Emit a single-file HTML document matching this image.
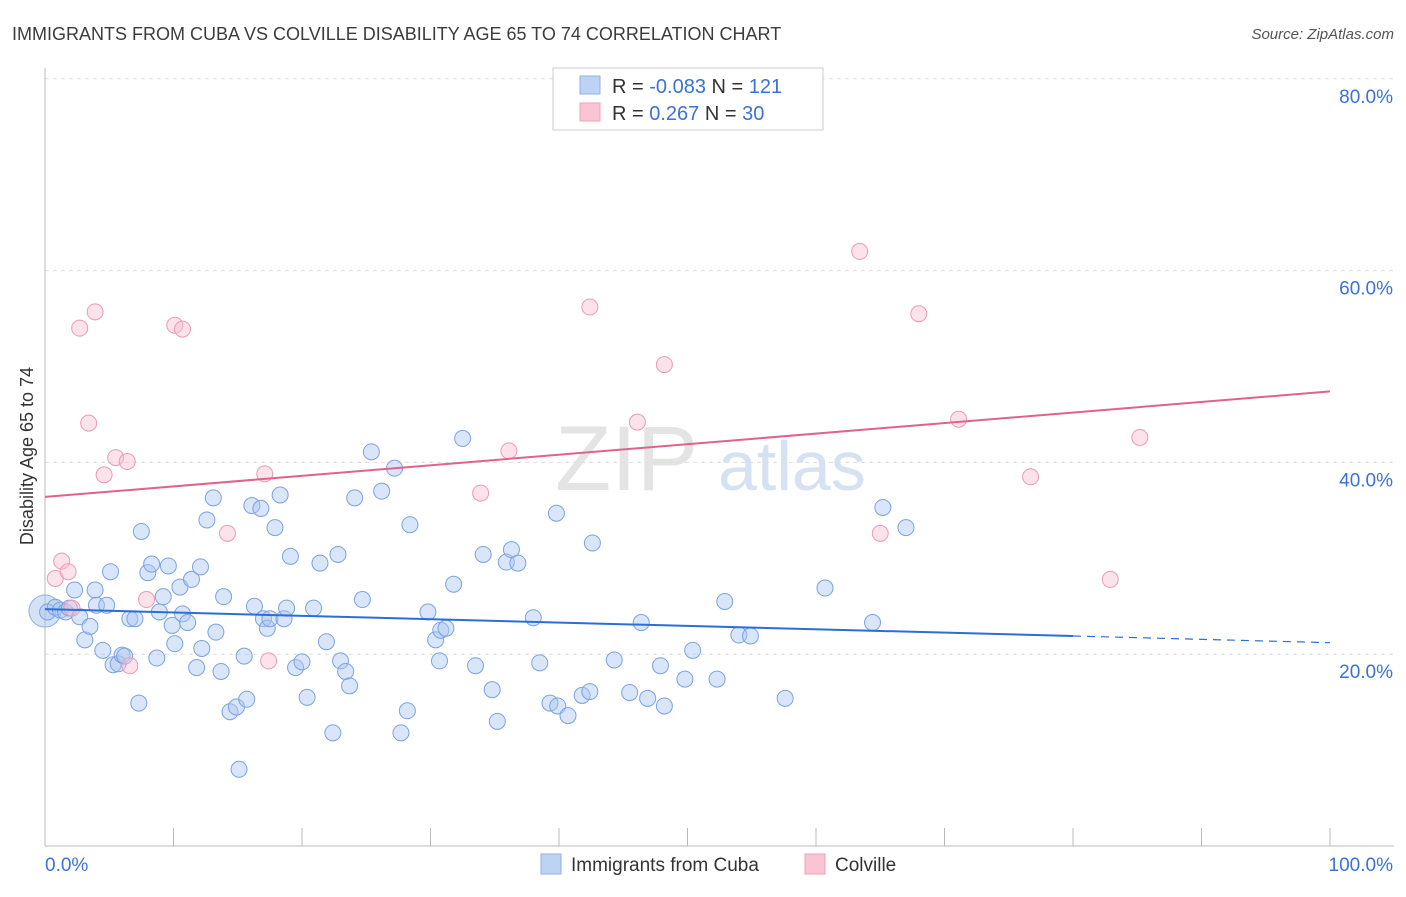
<!DOCTYPE html>
<html><head><meta charset="utf-8"><style>
body{margin:0;background:#fff;font-family:"Liberation Sans",sans-serif}
svg text{font-family:"Liberation Sans",sans-serif}
</style></head><body>
<svg id="chart" width="1406" height="892" viewBox="0 0 1406 892" xmlns="http://www.w3.org/2000/svg">
<text x="12" y="40" font-size="18" fill="#3c3c3c">IMMIGRANTS FROM CUBA VS COLVILLE DISABILITY AGE 65 TO 74 CORRELATION CHART</text>
<text x="1394" y="39" font-size="15" fill="#555" text-anchor="end" font-style="italic">Source: ZipAtlas.com</text>
<text x="555" y="490" font-size="92" fill="#e4e4e4" font-family="Liberation Serif">ZIP</text>
<text x="718" y="490" font-size="70" fill="#d6e2f3">atlas</text>
<g id="grid"></g>
<g id="axes"></g>
<g id="points"></g>
<g id="trends"></g>
<text transform="translate(33,456) rotate(-90)" font-size="18" fill="#333" text-anchor="middle">Disability Age 65 to 74</text>
<g>
<rect x="553" y="68" width="270" height="62" fill="#fff" stroke="#ccc"/>
<rect x="580" y="76" width="20" height="18" fill="#bcd3f3" stroke="#8fb2e6"/>
<rect x="580" y="103" width="20" height="18" fill="#f9c5d4" stroke="#eea3b9"/>
<text x="612" y="93" font-size="20" fill="#333">R = <tspan fill="#3a72d8">-0.083</tspan>   N = <tspan fill="#3a72d8">121</tspan></text>
<text x="612" y="120" font-size="20" fill="#333">R =   <tspan fill="#3a72d8">0.267</tspan>   N =  <tspan fill="#3a72d8">30</tspan></text>
</g>
<g>
<rect x="541" y="854" width="20" height="20" fill="#bcd3f3" stroke="#8fb2e6"/>
<text x="571" y="871" font-size="19" fill="#333">Immigrants from Cuba</text>
<rect x="805" y="854" width="20" height="20" fill="#f9c5d4" stroke="#eea3b9"/>
<text x="835" y="871" font-size="19" fill="#333">Colville</text>
</g>
</svg>
<script>
const yTicks=[20,40,60,80];
const yTickLabels=["20.0%","40.0%","60.0%","80.0%"];
const xLabels=["0.0%","100.0%"];
const cubaX=[0.2,0.8,1.2,1.6,1.9,2.3,2.7,3.1,3.5,3.9,4.0,4.5,4.8,5.1,5.3,5.7,6.0,6.2,6.6,7.0,7.3,7.5,8.0,8.3,8.7,8.9,9.2,9.6,9.9,10.1,10.5,10.7,11.1,11.4,11.8,12.1,12.2,12.6,13.1,13.3,13.7,13.9,14.4,14.9,15.1,15.5,15.7,16.1,16.3,16.8,17.0,17.3,17.5,17.9,18.3,18.6,18.8,19.1,19.5,20.0,20.4,20.9,21.4,21.9,22.4,22.8,23.0,23.4,23.7,24.1,24.7,25.4,26.2,27.2,27.7,28.2,28.4,29.8,30.4,30.7,30.8,31.2,31.8,32.5,33.5,34.1,34.8,35.2,35.9,36.3,36.8,38.0,38.5,39.3,39.8,39.9,40.7,41.8,42.4,42.6,44.3,45.5,46.4,46.9,47.9,48.2,49.8,50.4,52.3,52.9,54.0,54.9,57.6,60.7,64.4,65.2,67.0];
const cubaY=[24.4,24.9,24.6,24.4,24.8,26.7,23.9,21.5,22.9,26.7,25.1,20.4,25.1,28.6,18.9,19.0,19.9,19.8,23.7,23.7,14.9,32.8,28.5,29.4,19.6,24.4,26.0,29.2,23.0,21.1,27.0,24.2,23.3,27.8,18.6,29.1,20.6,34.0,36.3,22.3,18.2,26.0,14.0,14.5,8.0,19.8,15.3,35.5,25.0,35.2,23.7,22.7,23.7,33.2,36.6,23.7,24.8,30.2,18.6,19.2,15.5,24.8,29.5,21.3,11.8,30.4,19.3,18.2,16.7,36.3,25.7,41.1,37.0,39.4,11.8,14.1,33.5,24.4,21.5,19.3,22.5,22.7,27.3,42.5,18.8,30.4,16.3,13.0,29.6,30.9,29.5,23.8,19.1,14.9,34.7,14.6,13.6,15.7,16.1,31.6,19.4,16.0,23.3,15.4,18.8,14.6,17.4,20.4,17.4,25.5,22.0,21.9,15.4,26.9,23.3,35.3,33.2];
const colvX=[0.8,1.3,1.8,2.1,2.7,3.4,3.9,4.6,5.5,6.4,6.6,7.9,10.1,10.7,14.2,17.1,17.4,33.9,36.1,42.4,46.1,48.2,63.4,65.0,68.0,71.1,76.7,82.9,85.2];
const colvY=[27.9,29.7,28.6,24.8,54.0,44.1,55.7,38.7,40.5,40.1,18.8,25.7,54.3,53.9,32.6,38.8,19.3,36.8,41.2,56.2,44.2,50.2,62.0,32.6,55.5,44.5,38.5,27.8,42.6];
const cubaTrend=[24.7,21.2]; // value at x=0, x=100
const colvTrend=[36.4,47.4];
const NS="http://www.w3.org/2000/svg";
const X0=45,X1=1330,Y0=846,YPX=9.59;
function sx(v){return X0+(X1-X0)*v/100;}
function sy(v){return Y0-v*YPX;}
function mk(tag,attrs,parent){const e=document.createElementNS(NS,tag);for(const k in attrs)e.setAttribute(k,attrs[k]);document.getElementById(parent).appendChild(e);return e;}
yTicks.forEach((t,i)=>{
 const l=mk('line',{x1:45,x2:1394,y1:sy(t),y2:sy(t),stroke:'#ddd','stroke-dasharray':'4,4'},'grid');
 
 
 const tx=mk('text',{x:1393,y:sy(t)+24,'font-size':19,fill:'#3a72d8','text-anchor':'end'},'grid');
 tx.textContent=yTickLabels[i];
 
 
});
const ax=mk('line',{x1:45,x2:45,y1:68,y2:846,stroke:'#bbb'},'axes');


const bx=mk('line',{x1:45,x2:1394,y1:846,y2:846,stroke:'#bbb'},'axes');


for(let i=1;i<=10;i++){
 const t=mk('line',{x1:sx(i*10),x2:sx(i*10),y1:828,y2:846,stroke:'#bbb'},'axes');
 
 
}
[[0,'start',45],[100,'end',1393]].forEach((d,i)=>{
 const t=mk('text',{x:d[2],y:871,'font-size':19,fill:'#3a72d8','text-anchor':d[1]},'axes');
 t.textContent=xLabels[i];
 
 
});
const big=mk('circle',{cx:sx(0),cy:sy(24.5),r:16,fill:'rgba(160,190,235,0.45)',stroke:'#8fb2e6'},'points');


cubaX.forEach((x,i)=>{
 const c=mk('circle',{cx:sx(x),cy:sy(cubaY[i]),r:8,fill:'rgba(170,198,240,0.45)',stroke:'#7ba3e0','stroke-width':1},'points');
 
 
});
colvX.forEach((x,i)=>{
 const c=mk('circle',{cx:sx(x),cy:sy(colvY[i]),r:8,fill:'rgba(248,190,208,0.45)',stroke:'#eb9bb4','stroke-width':1},'points');
 
 
});
function tv(tr,x){return tr[0]+(tr[1]-tr[0])*x/100;}
const bl=mk('line',{x1:sx(0),y1:sy(tv(cubaTrend,0)),x2:sx(80),y2:sy(tv(cubaTrend,80)),stroke:'#2a6fd6','stroke-width':2},'trends');


const bd=mk('line',{x1:sx(80),y1:sy(tv(cubaTrend,80)),x2:sx(100),y2:sy(tv(cubaTrend,100)),stroke:'#2a6fd6','stroke-width':1.2,'stroke-dasharray':'8,6'},'trends');


const pl=mk('line',{x1:sx(0),y1:sy(tv(colvTrend,0)),x2:sx(100),y2:sy(tv(colvTrend,100)),stroke:'#e0628d','stroke-width':2},'trends');


</script>
</body></html>
